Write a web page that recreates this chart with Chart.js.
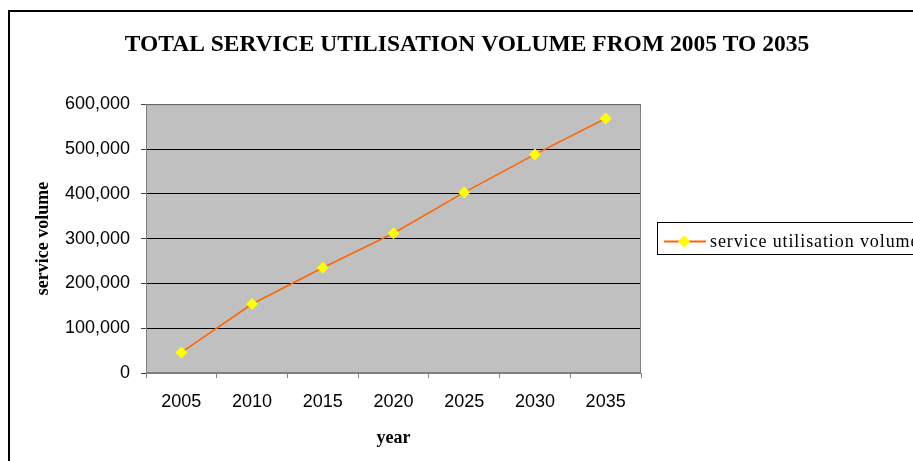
<!DOCTYPE html>
<html>
<head>
<meta charset="utf-8">
<script src="https://cdn.jsdelivr.net/npm/chart.js@4"></script>
<style>
  html, body { margin: 0; padding: 0; background: #fff; }
  #wrap { width: 913px; height: 461px; }
</style>
</head>
<body>
<div id="wrap"><canvas id="canvas" width="913" height="461"></canvas></div>
<script>
var years = ['2005', '2010', '2015', '2020', '2025', '2030', '2035'];
var volumes = [46000, 154000, 235000, 312000, 403000, 488000, 568000];
var seriesName = 'service utilisation volume';
var chartTitle = 'TOTAL SERVICE UTILISATION VOLUME FROM 2005 TO 2035';

// grey plot area, border, outer frame and the legend box
var excelLook = {
  id: 'excelLook',
  beforeDraw: function(chart) {
    var ctx = chart.ctx, a = chart.chartArea;
    ctx.save();
    ctx.fillStyle = '#fff';
    ctx.fillRect(0, 0, chart.width, chart.height);
    ctx.fillStyle = '#C0C0C0';
    ctx.fillRect(a.left, a.top, a.right - a.left, a.bottom - a.top);
    // outer frame
    ctx.fillStyle = '#000';
    ctx.fillRect(8, 10, 2, chart.height);
    ctx.fillRect(8, 10, chart.width, 2);
    ctx.restore();
  },
  beforeDatasetsDraw: function(chart) {
    var ctx = chart.ctx, a = chart.chartArea;
    ctx.save();
    ctx.strokeStyle = '#808080';
    ctx.lineWidth = 1;
    ctx.strokeRect(a.left + 0.5, a.top + 0.5, a.right - a.left - 1, a.bottom - a.top - 1);
    ctx.restore();
  },
  afterDraw: function(chart) {
    var ctx = chart.ctx;
    var ds = chart.data.datasets[0];
    ctx.save();
    ctx.strokeStyle = '#000';
    ctx.lineWidth = 1;
    ctx.strokeRect(657.5, 222.5, 300, 32);
    ctx.strokeStyle = ds.borderColor;
    ctx.lineWidth = 2;
    ctx.beginPath();
    ctx.moveTo(664, 241.5);
    ctx.lineTo(706, 241.5);
    ctx.stroke();
    ctx.fillStyle = ds.pointBackgroundColor;
    ctx.beginPath();
    ctx.moveTo(684, 235.5);
    ctx.lineTo(690, 241.5);
    ctx.lineTo(684, 247.5);
    ctx.lineTo(678, 241.5);
    ctx.closePath();
    ctx.fill();
    ctx.fillStyle = '#000';
    ctx.font = '18px "Liberation Serif"';
    ctx.letterSpacing = '0.9px';
    ctx.textBaseline = 'alphabetic';
    ctx.fillText(ds.label, 710, 247);
    ctx.restore();
  }
};

window.onload = function() {
  var ctx = document.getElementById('canvas').getContext('2d');
  window.myLine = new Chart(ctx, {
    type: 'line',
    data: {
      labels: years,
      datasets: [{
        label: seriesName,
        data: volumes,
        borderColor: '#FF6600',
        borderWidth: 1.5,
        pointStyle: 'rectRot',
        pointRadius: 6,
        pointBackgroundColor: '#FFFF00',
        pointBorderColor: '#FFFF00',
        pointBorderWidth: 0,
        tension: 0,
        fill: false
      }]
    },
    options: {
      responsive: false,
      animation: false,
      events: [],
      layout: { padding: { left: 21, right: 0, top: 0, bottom: 0 } },
      plugins: {
        legend: { display: false },
        tooltip: { enabled: false },
        title: {
          display: true,
          text: chartTitle,
          color: '#000',
          font: { family: '"Liberation Serif"', size: 23.5, weight: 'bold', lineHeight: 1.2 },
          padding: { top: 31, bottom: 45 }
        }
      },
      scales: {
        x: {
          type: 'category',
          offset: true,
          grid: { display: true, drawOnChartArea: false, offset: true, color: '#808080', tickLength: 5 },
          border: { color: '#808080' },
          ticks: { color: '#000', padding: 13, maxRotation: 0, font: { family: '"Liberation Sans"', size: 18 } },
          title: {
            display: true,
            text: 'year',
            color: '#000',
            font: { family: '"Liberation Serif"', size: 18, weight: 'bold', lineHeight: 1.2 },
            padding: { top: 0, bottom: 12 }
          },
          afterFit: function(scale) { scale.height = 88; }
        },
        y: {
          min: 0,
          max: 600000,
          grid: { color: '#000', tickColor: '#404040', tickLength: 5 },
          border: { color: '#808080' },
          ticks: {
            stepSize: 100000,
            color: '#000',
            padding: 11,
            font: { family: '"Liberation Sans"', size: 18 },
            callback: function(v) { return v.toLocaleString('en-US'); }
          },
          title: {
            display: true,
            text: 'service volume',
            color: '#000',
            font: { family: '"Liberation Serif"', size: 18, weight: 'bold', lineHeight: 1.2 },
            padding: { top: 12, bottom: 0 }
          },
          afterFit: function(scale) { scale.width = 125; }
        },
        gap: {
          type: 'linear',
          position: 'right',
          display: true,
          grid: { display: false },
          border: { display: false },
          ticks: { display: false },
          afterFit: function(scale) { scale.width = 272; }
        }
      }
    },
    plugins: [excelLook]
  });
};
</script>
</body>
</html>
